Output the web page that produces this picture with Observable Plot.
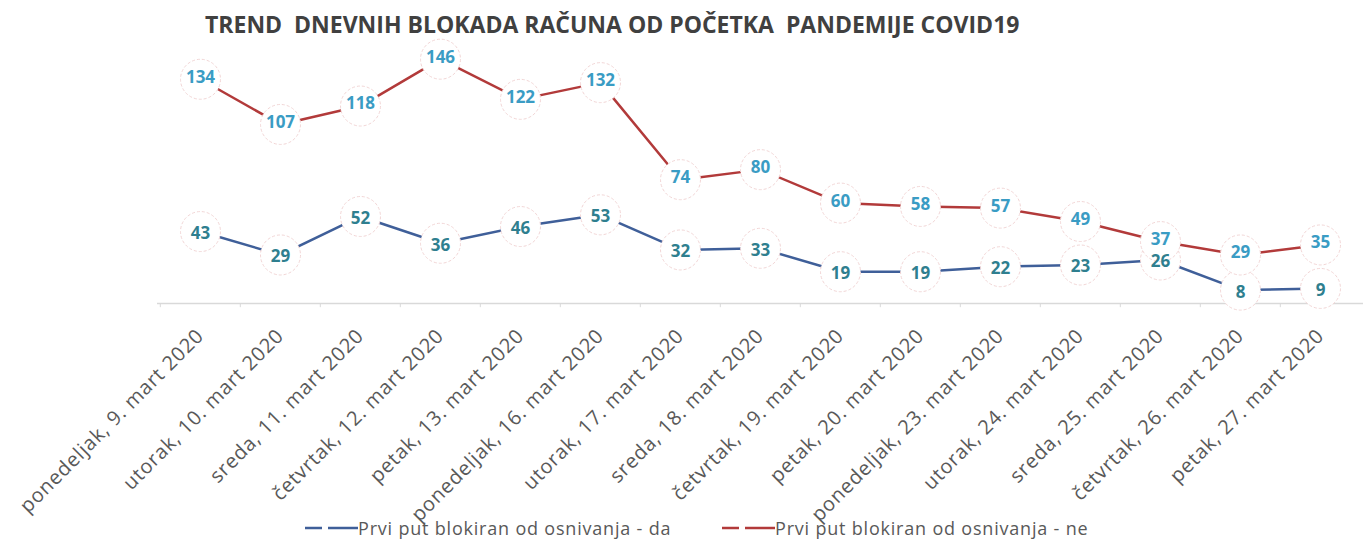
<!DOCTYPE html>
<html>
<head>
<meta charset="utf-8">
<script src="https://cdn.jsdelivr.net/npm/d3@7"></script>
<script src="https://cdn.jsdelivr.net/npm/@observablehq/plot@0.6"></script>
<style>
  body { margin: 0; background: #fff; font-family: "Open Sans", sans-serif; }
  #wrap { position: relative; width: 1363px; height: 543px; overflow: hidden; }
  #title { position: absolute; left: 205px; top: 8px; font-size: 23px; font-weight: 700; color: #404040; white-space: pre; letter-spacing: 0px; }
  #chart { position: absolute; left: 0; top: 0; }
  #legend { position: absolute; top: 516px; left: 0; width: 1363px; height: 24px; font-size: 18px; color: #595959; letter-spacing: 0.8px; }
  .item { position: absolute; top: 0; display: flex; align-items: center; height: 24px; white-space: nowrap; }
</style>
</head>
<body>
<div id="wrap">
  <div id="chart"></div>
  <div id="title"></div>
  <div id="legend"></div>
</div>
<script>
const titleText = "TREND  DNEVNIH BLOKADA RAČUNA OD POČETKA  PANDEMIJE COVID19";
const dates = [
  "ponedeljak, 9. mart 2020", "utorak, 10. mart 2020", "sreda, 11. mart 2020",
  "četvrtak, 12. mart 2020", "petak, 13. mart 2020", "ponedeljak, 16. mart 2020",
  "utorak, 17. mart 2020", "sreda, 18. mart 2020", "četvrtak, 19. mart 2020",
  "petak, 20. mart 2020", "ponedeljak, 23. mart 2020", "utorak, 24. mart 2020",
  "sreda, 25. mart 2020", "četvrtak, 26. mart 2020", "petak, 27. mart 2020"
];
const seriesDa = [43, 29, 52, 36, 46, 53, 32, 33, 19, 19, 22, 23, 26, 8, 9];
const seriesNe = [134, 107, 118, 146, 122, 132, 74, 80, 60, 58, 57, 49, 37, 29, 35];
const seriesNames = ["Prvi put blokiran od osnivanja - da", "Prvi put blokiran od osnivanja - ne"];
const lineColors = ["#3f5f99", "#b23a3a"];
const labelColors = ["#2f7f8f", "#3a9cc4"];

document.getElementById("title").textContent = titleText;

const rows = [];
dates.forEach((d, i) => {
  rows.push({date: d, value: seriesDa[i], s: 0});
  rows.push({date: d, value: seriesNe[i], s: 1});
});
const da = rows.filter(r => r.s === 0);
const ne = rows.filter(r => r.s === 1);

const W = 1363, mL = 157, mR = 0;
const bw = (W - mL - mR) / dates.length;

const chart = Plot.plot({
  width: W,
  height: 500,
  marginLeft: mL,
  marginRight: mR,
  marginTop: 52,
  marginBottom: 197,
  style: {fontFamily: "Open Sans, sans-serif", overflow: "visible", background: "transparent"},
  x: {type: "band", domain: dates, padding: 0, label: null},
  y: {domain: [0, 150], axis: null},
  marks: [
    Plot.ruleY([0], {stroke: "#d9d9d9", strokeWidth: 1.5}),
    Plot.ruleX(dates, {x: d => d, y1: 0, y2: -2.5, dx: -bw / 2, stroke: "#d9d9d9"}),
    Plot.axisX({tickSize: 0, tickRotate: -45, tickPadding: 29, fontSize: 20, fill: "#595959", textAnchor: "end", label: null, className: "axis-x"}),
    Plot.line(ne, {x: "date", y: "value", stroke: lineColors[1], strokeWidth: 2.5}),
    Plot.line(da, {x: "date", y: "value", stroke: lineColors[0], strokeWidth: 2.5}),
    Plot.dot(rows, {x: "date", y: "value", r: 20, fill: "white", stroke: "#f2d6d6", strokeWidth: 1, strokeDasharray: "3,2"}),
    Plot.text(ne, {x: "date", y: "value", text: d => String(d.value), fill: labelColors[1], fontSize: 17, fontWeight: 700, dy: -2}),
    Plot.text(da, {x: "date", y: "value", text: d => String(d.value), fill: labelColors[0], fontSize: 17, fontWeight: 700, dy: 2})
  ]
});
document.getElementById("chart").appendChild(chart);
chart.querySelectorAll(".axis-x text").forEach(t => t.setAttribute("letter-spacing", "0.8"));

// legend
const legend = document.getElementById("legend");
const lefts = [305, 722];
seriesNames.forEach((name, i) => {
  const it = document.createElement("div");
  it.className = "item";
  it.style.left = lefts[i] + "px";
  it.innerHTML = `<svg width="53" height="10"><line x1="0" y1="5" x2="17" y2="5" stroke="${lineColors[i]}" stroke-width="2.5"/><line x1="23" y1="5" x2="53" y2="5" stroke="${lineColors[i]}" stroke-width="2.5"/></svg><span>${name}</span>`;
  legend.appendChild(it);
});
</script>
</body>
</html>
